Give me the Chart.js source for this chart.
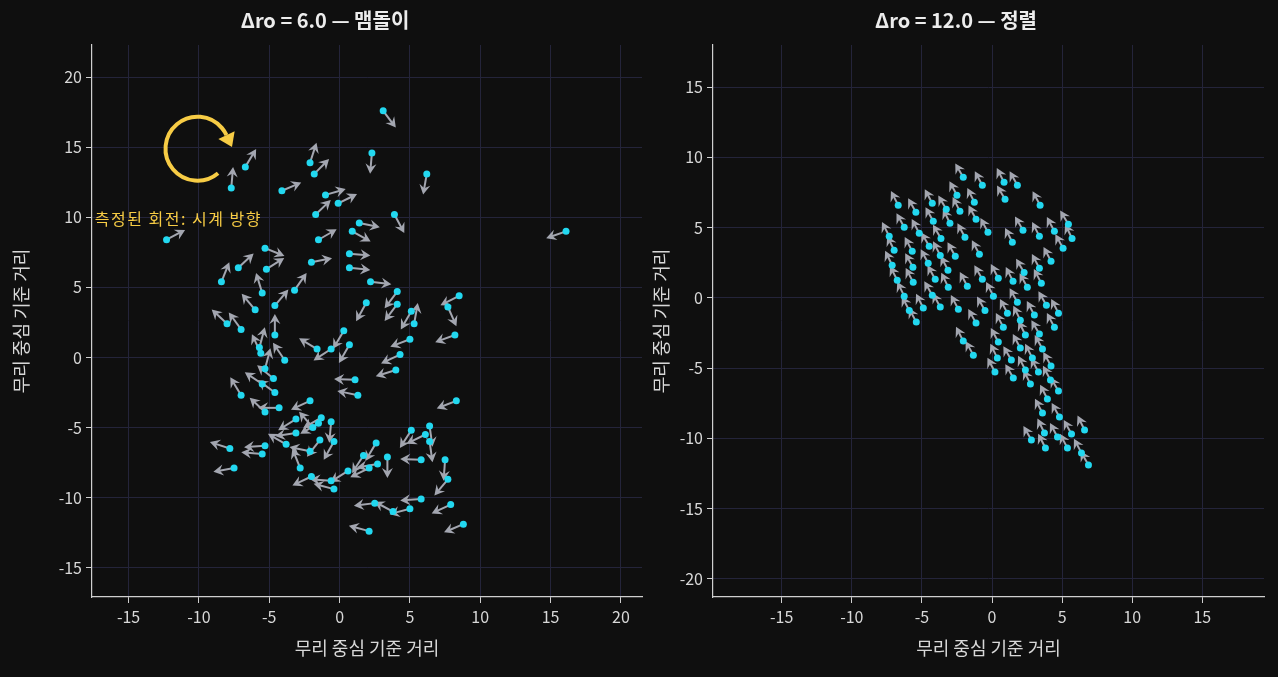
<!DOCTYPE html>
<html>
<head>
<meta charset="utf-8">
<script src="https://cdn.jsdelivr.net/npm/chart.js@4.4.1/dist/chart.umd.min.js"></script>
<style>
  html, body { margin: 0; padding: 0; background: #0f0f0f; }
  .panel { position: absolute; top: 0; height: 677px; }
  #leftBox { left: 0; width: 650px; }
  #rightBox { left: 640px; width: 638px; }
</style>
</head>
<body>
<div class="panel" id="leftBox"><canvas id="leftChart"></canvas></div>
<div class="panel" id="rightBox"><canvas id="rightChart"></canvas></div>
<script>
// --- left panel: milling (Δro = 6.0) ---
const leftX = [
  3.1, 2.3, 6.2, -2.1, -1.8, -4.1, -1.0, -0.1, -1.7, 3.9,
  1.4, 0.9, -1.5, 16.1, -12.3, -6.7, -7.7, -5.3, -7.2, -5.2,
  -2.0, 0.7, 0.7, 2.2, -8.4, -5.5, -6.0, -4.6, -3.2, 4.1,
  4.1, 1.9, 8.5, 7.7, 5.1, 5.3, -8.0, -7.0, -4.6, -5.7,
  -5.6, -3.9, -5.3, -4.7, -5.5, -4.6, -7.0, -4.3, -5.3, -2.1,
  0.3, -0.6, -1.6, 0.7, 5.0, 4.3, 4.0, 8.2, 1.1, 1.3,
  8.3, -3.1, -3.1, -1.9, -1.5, -1.3, -0.6, -3.8, -2.1, -2.8,
  -1.4, -0.4, -5.3, -5.5, -7.8, -7.5, -2.0, -0.6, -0.4, 0.6,
  1.7, 2.6, 2.1, 2.7, 3.4, 5.1, 6.1, 6.4, 6.4, 5.8,
  7.5, 7.7, 5.8, 5.0, 3.8, 2.5, 7.9, 8.8, 2.1
];
const leftY = [
  17.6, 14.6, 13.1, 13.9, 13.1, 11.9, 11.6, 11.0, 10.2, 10.2,
  9.6, 9.0, 8.4, 9.0, 8.4, 13.6, 12.1, 7.8, 6.4, 6.3,
  6.8, 7.4, 6.4, 5.4, 5.4, 4.6, 3.4, 3.7, 4.8, 4.7,
  3.8, 3.9, 4.4, 3.6, 3.3, 2.4, 2.4, 2.0, 1.6, 0.7,
  0.3, -0.2, -0.8, -1.5, -1.9, -2.5, -2.7, -3.6, -3.9, -3.1,
  1.9, 0.6, 0.6, 0.9, 1.3, 0.2, -0.9, 1.6, -1.6, -2.7,
  -3.1, -4.4, -5.4, -5.0, -4.7, -4.3, -4.6, -6.2, -6.7, -7.9,
  -5.9, -6.0, -6.3, -6.9, -6.5, -7.9, -8.5, -8.8, -9.4, -8.1,
  -7.0, -6.1, -7.9, -7.6, -7.1, -5.2, -5.5, -4.9, -6.0, -7.3,
  -7.3, -8.7, -10.1, -10.8, -11.0, -10.4, -10.5, -11.9, -12.4
];
// heading in degrees, counter-clockwise from +x
const leftHeading = [
  -53, -95, -100, 72, 45, 23, 16, 26, 44, -62,
  -12, -29, 30, -161, 28, 59, 85, -22, 43, 32,
  11, -5, -6, -7, 68, 107, 130, 50, 55, 233,
  233, 241, 207, -66, 240, 80, 137, 126, 90, 75,
  115, 124, 75, 141, 146, 144, 121, 180, 137, 205,
  239, 213, 149, 240, 201, 205, 197, 200, 178, 168,
  201, 212, 188, 131, 210, 210, -95, 150, 168, 112,
  232, 241, 184, 175, 162, 190, 205, 176, 165, 212,
  237, 239, 206, 190, -90, 237, 206, -82, -82, 178,
  -94, 230, 184, 195, 152, 187, 205, 203, 165
];

// --- right panel: aligned (Δro = 12.0) ---
const rightX = [
  -2.05, -0.69, 0.86, 1.81, -2.5, -1.26, 0.93, 3.43, -6.69, -5.43,
  -4.26, -3.26, -2.29, -1.14, -4.19, -3.0, -0.29, 2.21, 3.38, 4.45,
  5.45, 5.71, -7.33, -6.26, -5.19, -3.64, -1.93, 1.45, 5.07, -6.98,
  -5.69, -4.48, -3.69, -2.62, -0.9, 4.21, -7.12, -5.64, -4.55, -3.14,
  2.29, 3.38, -6.76, -5.62, -4.05, -3.12, -1.76, -0.69, 0.45, 1.5,
  2.52, 3.52, -6.26, -4.26, -5.9, -4.9, -3.69, -2.4, -0.5, 0.1,
  1.1, 1.81, 2.02, 3.02, 3.88, 4.74, -5.4, -1.14, 0.81, 2.38,
  3.38, 4.45, -2.05, -1.33, 0.45, 0.38, 1.38, 2.02, 2.88, 3.6,
  0.21, 1.52, 2.38, 3.31, 4.21, 2.74, 4.17, 4.74, 3.95, 3.6,
  4.81, 3.74, 4.67, 2.81, 3.81, 5.38, 5.67, 6.6, 6.38, 6.88
];
const rightY = [
  8.58, 8.01, 8.22, 8.01, 7.3, 6.8, 7.01, 6.59, 6.59, 6.09,
  6.73, 6.3, 6.16, 5.59, 5.45, 5.31, 4.67, 4.81, 4.38, 4.74,
  5.24, 4.22, 4.38, 5.02, 4.6, 4.22, 4.31, 3.96, 3.53, 3.39,
  3.32, 3.67, 3.01, 2.96, 3.1, 2.61, 2.32, 2.18, 2.46, 1.97,
  1.8, 2.11, 1.26, 1.11, 1.33, 0.76, 0.83, 1.33, 1.4, 1.18,
  0.76, 1.04, 0.12, 0.19, -0.9, -0.73, -0.66, -0.81, -0.9, 0.12,
  -1.09, -0.31, -1.59, -1.23, -0.52, -1.09, -1.73, -1.8, -2.09, -2.65,
  -2.58, -2.09, -3.08, -4.08, -3.15, -4.29, -4.43, -3.58, -4.29, -3.65,
  -5.28, -5.71, -5.14, -5.28, -4.86, -6.14, -5.85, -6.64, -7.2, -8.2,
  -8.48, -9.62, -9.91, -10.12, -10.69, -10.69, -9.69, -9.41, -11.04, -11.9
];
const rightHeading = [
  120, 118, 117, 119, 118, 116, 120, 118, 117, 119,
  118, 120, 117, 118, 119, 116, 118, 120, 117, 118,
  121, 116, 117, 119, 118, 120, 118, 117, 119, 116,
  118, 120, 117, 119, 118, 118, 116, 119, 118, 117,
  120, 118, 117, 118, 119, 116, 118, 120, 118, 117,
  119, 118, 116, 120, 118, 117, 119, 118, 120, 117,
  118, 119, 116, 118, 120, 117, 118, 119, 118, 116,
  120, 118, 117, 119, 118, 116, 120, 118, 117, 119,
  118, 120, 117, 118, 119, 116, 118, 120, 117, 118,
  119, 116, 118, 120, 117, 118, 119, 116, 118, 120
];

const leftTicksX = [-15, -10, -5, 0, 5, 10, 15, 20];
const leftTicksY = [-15, -10, -5, 0, 5, 10, 15, 20];
const rightTicksX = [-15, -10, -5, 0, 5, 10, 15];
const rightTicksY = [-20, -15, -10, -5, 0, 5, 10, 15];

const FONT = "'Noto Sans CJK KR', 'Noto Sans', sans-serif";
const TEXT = '#d8d8d8';
const GRID = '#24243a';
const ARROW = '#a3a6b0';
const DOT = '#22d8f0';

// draws heading arrows behind the dots
const quiverPlugin = {
    id: 'quiver',
    beforeDatasetsDraw(chart, args, opts) {
        const { ctx, scales } = chart;
        const ds = chart.data.datasets[0];
        const hs = opts.headings;
        ctx.save();
        ctx.fillStyle = ARROW;
        ctx.strokeStyle = ARROW;
        ctx.lineWidth = 2;
        ds.data.forEach((p, i) => {
            const x0 = scales.x.getPixelForValue(p.x);
            const y0 = scales.y.getPixelForValue(p.y);
            const a = hs[i] * Math.PI / 180;
            const ux = Math.cos(a), uy = -Math.sin(a);
            const L = opts.length, hl = 10, hw = 5.5;
            const x1 = x0 + ux * L, y1 = y0 + uy * L;
            const bx = x1 - ux * hl, by = y1 - uy * hl;
            ctx.beginPath();
            ctx.moveTo(x0, y0);
            ctx.lineTo(x1 - ux * hl * 0.6, y1 - uy * hl * 0.6);
            ctx.stroke();
            ctx.beginPath();
            ctx.moveTo(x1, y1);
            ctx.lineTo(bx - uy * hw, by + ux * hw);
            ctx.lineTo(x1 - ux * hl * 0.65, y1 - uy * hl * 0.65);
            ctx.lineTo(bx + uy * hw, by - ux * hw);
            ctx.closePath();
            ctx.fill();
        });
        ctx.restore();
    }
};

// rotation marker + label on the left panel
const rotationPlugin = {
    id: 'rotation',
    afterDatasetsDraw(chart, args, opts) {
        if (!opts.show) return;
        const { ctx, scales } = chart;
        const cx = scales.x.getPixelForValue(-10.1);
        const cy = scales.y.getPixelForValue(14.9);
        const r = 32;
        const a0 = 50 * Math.PI / 180, a1 = 335 * Math.PI / 180;
        ctx.save();
        ctx.strokeStyle = '#f7cc45';
        ctx.fillStyle = '#f7cc45';
        ctx.lineWidth = 4;
        ctx.beginPath();
        ctx.arc(cx, cy, r, a0, a1);
        ctx.stroke();
        const ex = cx + r * Math.cos(a1), ey = cy + r * Math.sin(a1);
        const tx = -Math.sin(a1), ty = Math.cos(a1);
        ctx.beginPath();
        ctx.moveTo(ex + tx * 13, ey + ty * 13);
        ctx.lineTo(ex - ty * 9, ey + tx * 9);
        ctx.lineTo(ex + ty * 9, ey - tx * 9);
        ctx.closePath();
        ctx.fill();
        ctx.font = '16px ' + FONT;
        ctx.letterSpacing = '1.5px';
        ctx.textBaseline = 'middle';
        ctx.fillText('측정된 회전: 시계 방향', scales.x.getPixelForValue(-17.4), scales.y.getPixelForValue(9.9));
        ctx.restore();
    }
};

function makeChart(id, title, xs, ys, heads, xr, yr, xt, yt, yWidth, padRight, arrowLen, showRot) {
    const pts = xs.map((x, i) => ({ x: x, y: ys[i] }));
    const axis = (range, ticks, extra) => Object.assign({
        type: 'linear', min: range[0], max: range[1],
        afterBuildTicks: s => { s.ticks = ticks.map(v => ({ value: v })); },
        grid: { color: GRID, lineWidth: 1, drawTicks: true, tickLength: 6, tickColor: '#cfcfcf' },
        border: { color: '#cfcfcf', width: 1.2 },
        ticks: { color: TEXT, font: { family: FONT, size: 16 }, padding: 4 },
        title: { display: true, text: '무리 중심 기준 거리', color: TEXT, font: { family: FONT, size: 18 }, padding: 2 }
    }, extra);
    return new Chart(document.getElementById(id), {
        type: 'scatter',
        data: { datasets: [{ data: pts, backgroundColor: DOT, borderWidth: 0, pointRadius: 3.5 }] },
        options: {
            responsive: true, maintainAspectRatio: false, animation: false,
            layout: { padding: { left: 8, right: padRight, top: 0, bottom: 16 } },
            plugins: {
                legend: { display: false }, tooltip: { enabled: false },
                title: { display: true, text: title, color: '#ececec', font: { family: FONT, size: 20, weight: 'bold' }, padding: { top: 8, bottom: 13 } },
                quiver: { headings: heads, length: arrowLen },
                rotation: { show: showRot }
            },
            scales: {
                x: axis(xr, xt, { afterFit: s => { s.height = 64; } }),
                y: axis(yr, yt, { afterFit: s => { s.width = yWidth; } })
            }
        },
        plugins: [quiverPlugin, rotationPlugin]
    });
}

makeChart('leftChart', 'Δro = 6.0 — 맴돌이', leftX, leftY, leftHeading,
    [-17.6, 21.5], [-17.1, 22.3], leftTicksX, leftTicksY, 84, 8, 21, true);
makeChart('rightChart', 'Δro = 12.0 — 정렬', rightX, rightY, rightHeading,
    [-19.9, 19.4], [-21.3, 18.0], rightTicksX, rightTicksY, 65, 14, 16, false);
</script>
</body>
</html>
